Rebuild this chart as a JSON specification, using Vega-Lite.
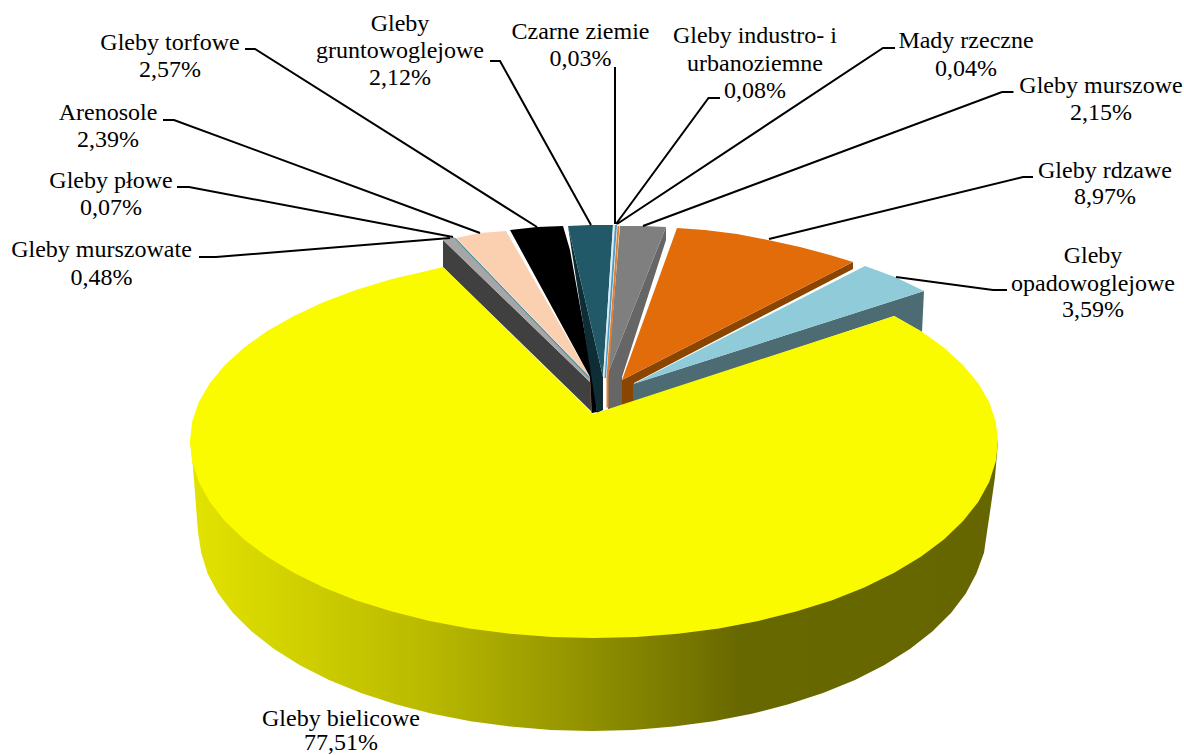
{
  "$schema": "https://vega.github.io/schema/vega-lite/v6.json",
  "autosize": {"type": "none"},
  "width": 1184,
  "height": 755,
  "padding": 0,
  "background": "white",
  "view": {"stroke": null},
  "datasets": {
    "rim": [
      {"x":998,"y":441},{"x":995,"y":477},{"x":991,"y":505},{"x":987,"y":532},{"x":984,"y":552.8},{"x":976.4,"y":573.4},{"x":965.8,"y":593.5},{"x":951,"y":612.9},{"x":932.3,"y":631.5},{"x":909.9,"y":649},{"x":884,"y":665.2},{"x":855,"y":679.9},{"x":823,"y":693},{"x":788.5,"y":704.3},{"x":751.8,"y":713.8},{"x":713.4,"y":721.3},{"x":673.7,"y":726.6},{"x":633.1,"y":729.9},{"x":592,"y":731},
      {"x":550.9,"y":729.9},{"x":510.3,"y":726.6},{"x":470.6,"y":721.3},{"x":432.2,"y":713.8},{"x":395.5,"y":704.3},{"x":361,"y":693},{"x":329,"y":679.9},{"x":300,"y":665.2},{"x":274.1,"y":649},{"x":251.7,"y":631.5},{"x":233,"y":612.9},{"x":218.2,"y":593.5},{"x":207.6,"y":573.4},{"x":201.2,"y":552.8},{"x":198,"y":532},{"x":193,"y":467},{"x":190,"y":441}
    ],
    "faces": [
      {"part":"murszowate bok","x":443,"y":240},{"part":"murszowate bok","x":443,"y":267},{"part":"murszowate bok","x":593,"y":413},{"part":"murszowate bok","x":590,"y":382},
      {"part":"murszowate","x":443,"y":240},{"part":"murszowate","x":453,"y":237},{"part":"murszowate","x":590,"y":377},{"part":"murszowate","x":590,"y":382},
      {"part":"płowe","x":453,"y":237},{"part":"płowe","x":456,"y":238.5},{"part":"płowe","x":590,"y":378},{"part":"płowe","x":589,"y":378},
      {"part":"arenosole bok","x":590,"y":377},{"part":"arenosole bok","x":591,"y":413},{"part":"arenosole bok","x":593,"y":413},{"part":"arenosole bok","x":592,"y":380},
      {"part":"arenosole","x":456,"y":238},{"part":"arenosole","x":480,"y":233},{"part":"arenosole","x":506,"y":231},{"part":"arenosole","x":590,"y":377},
      {"part":"torfowe","x":510,"y":230},{"part":"torfowe","x":537,"y":227},{"part":"torfowe","x":563,"y":226},{"part":"torfowe","x":570,"y":250},{"part":"torfowe","x":595,"y":390},{"part":"torfowe","x":597,"y":412},{"part":"torfowe","x":592,"y":413},{"part":"torfowe","x":590,"y":377},
      {"part":"gruntowoglejowe bok","x":568,"y":226},{"part":"gruntowoglejowe bok","x":572,"y":253},{"part":"gruntowoglejowe bok","x":597,"y":413},{"part":"gruntowoglejowe bok","x":603,"y":410},{"part":"gruntowoglejowe bok","x":603,"y":377},
      {"part":"gruntowoglejowe","x":568,"y":226},{"part":"gruntowoglejowe","x":590,"y":225},{"part":"gruntowoglejowe","x":613,"y":225},{"part":"gruntowoglejowe","x":603,"y":377},
      {"part":"czarne ziemie","x":613,"y":225},{"part":"czarne ziemie","x":615,"y":225},{"part":"czarne ziemie","x":604.5,"y":378},{"part":"czarne ziemie","x":603,"y":378},
      {"part":"industro","x":615,"y":225},{"part":"industro","x":617,"y":225},{"part":"industro","x":606,"y":378},{"part":"industro","x":604.5,"y":378},
      {"part":"murszowe bok","x":666,"y":227},{"part":"murszowe bok","x":666,"y":240},{"part":"murszowe bok","x":622,"y":377},{"part":"murszowe bok","x":622,"y":405},{"part":"murszowe bok","x":608,"y":410},{"part":"murszowe bok","x":608,"y":373},
      {"part":"murszowe","x":620,"y":226},{"part":"murszowe","x":643,"y":226},{"part":"murszowe","x":666,"y":227},{"part":"murszowe","x":608,"y":373},
      {"part":"mady","x":617.5,"y":226},{"part":"mady","x":619.5,"y":226},{"part":"mady","x":608.5,"y":378},{"part":"mady","x":608.5,"y":407},{"part":"mady","x":606.5,"y":408},{"part":"mady","x":606.5,"y":378},
      {"part":"rdzawe bok","x":853,"y":262},{"part":"rdzawe bok","x":853,"y":269},{"part":"rdzawe bok","x":634,"y":383},{"part":"rdzawe bok","x":634,"y":402},{"part":"rdzawe bok","x":622,"y":406},{"part":"rdzawe bok","x":622,"y":380},
      {"part":"rdzawe","x":677,"y":228},{"part":"rdzawe","x":705,"y":230},{"part":"rdzawe","x":737,"y":234},{"part":"rdzawe","x":768,"y":240},{"part":"rdzawe","x":800,"y":247},{"part":"rdzawe","x":830,"y":255},{"part":"rdzawe","x":853,"y":262},{"part":"rdzawe","x":622,"y":380},
      {"part":"opadowoglejowe bok","x":924,"y":291},{"part":"opadowoglejowe bok","x":922,"y":332},{"part":"opadowoglejowe bok","x":894.2,"y":315.9},{"part":"opadowoglejowe bok","x":633,"y":402},{"part":"opadowoglejowe bok","x":633,"y":384},
      {"part":"opadowoglejowe","x":865,"y":266},{"part":"opadowoglejowe","x":895,"y":277},{"part":"opadowoglejowe","x":924,"y":291},{"part":"opadowoglejowe","x":633,"y":384},
      {"part":"bielicowe","x":593,"y":414},{"part":"bielicowe","x":894.2,"y":315.9},{"part":"bielicowe","x":920.8,"y":331.1},{"part":"bielicowe","x":943.9,"y":347.5},{"part":"bielicowe","x":963.1,"y":364.9},{"part":"bielicowe","x":978.2,"y":383.2},{"part":"bielicowe","x":989.2,"y":402.1},{"part":"bielicowe","x":995.8,"y":421.5},{"part":"bielicowe","x":998,"y":441},
      {"part":"bielicowe","x":995.8,"y":461.6},{"part":"bielicowe","x":989.2,"y":482},{"part":"bielicowe","x":978.2,"y":501.9},{"part":"bielicowe","x":963.1,"y":521.1},{"part":"bielicowe","x":943.9,"y":539.5},{"part":"bielicowe","x":920.8,"y":556.8},{"part":"bielicowe","x":894.2,"y":572.8},{"part":"bielicowe","x":864.3,"y":587.4},{"part":"bielicowe","x":831.5,"y":600.4},{"part":"bielicowe","x":796,"y":611.6},{"part":"bielicowe","x":758.3,"y":621},{"part":"bielicowe","x":718.8,"y":628.4},{"part":"bielicowe","x":678,"y":633.7},{"part":"bielicowe","x":636.2,"y":636.9},{"part":"bielicowe","x":594,"y":638},
      {"part":"bielicowe","x":551.8,"y":636.9},{"part":"bielicowe","x":510,"y":633.7},{"part":"bielicowe","x":469.2,"y":628.4},{"part":"bielicowe","x":429.7,"y":621},{"part":"bielicowe","x":392,"y":611.6},{"part":"bielicowe","x":356.5,"y":600.4},{"part":"bielicowe","x":323.7,"y":587.4},{"part":"bielicowe","x":293.8,"y":572.8},{"part":"bielicowe","x":267.2,"y":556.8},{"part":"bielicowe","x":244.1,"y":539.5},{"part":"bielicowe","x":224.9,"y":521.1},{"part":"bielicowe","x":209.8,"y":501.9},{"part":"bielicowe","x":198.8,"y":482},{"part":"bielicowe","x":192.2,"y":461.6},{"part":"bielicowe","x":190,"y":441},
      {"part":"bielicowe","x":192.2,"y":421.5},{"part":"bielicowe","x":198.8,"y":402.1},{"part":"bielicowe","x":209.8,"y":383.2},{"part":"bielicowe","x":224.9,"y":364.9},{"part":"bielicowe","x":244.1,"y":347.5},{"part":"bielicowe","x":267.2,"y":331.1},{"part":"bielicowe","x":293.8,"y":315.9},{"part":"bielicowe","x":323.7,"y":302},{"part":"bielicowe","x":356.5,"y":289.7},{"part":"bielicowe","x":392,"y":279.1},{"part":"bielicowe","x":429.7,"y":270.2},{"part":"bielicowe","x":443,"y":267}
    ],
    "leaders": [
      {"soil":"Gleby torfowe","x":245,"y":49},{"soil":"Gleby torfowe","x":255,"y":49},{"soil":"Gleby torfowe","x":537,"y":227},
      {"soil":"Gleby gruntowoglejowe","x":490,"y":61},{"soil":"Gleby gruntowoglejowe","x":500,"y":61},{"soil":"Gleby gruntowoglejowe","x":591,"y":225},
      {"soil":"Arenosole","x":163,"y":120},{"soil":"Arenosole","x":174,"y":120},{"soil":"Arenosole","x":480,"y":233},
      {"soil":"Gleby płowe","x":177,"y":187},{"soil":"Gleby płowe","x":189,"y":187},{"soil":"Gleby płowe","x":453,"y":237},
      {"soil":"Gleby murszowate","x":199,"y":257},{"soil":"Gleby murszowate","x":216,"y":257},{"soil":"Gleby murszowate","x":450,"y":238},
      {"soil":"Czarne ziemie","x":615,"y":67},{"soil":"Czarne ziemie","x":615,"y":224},
      {"soil":"Gleby industro- i urbanoziemne","x":720,"y":98},{"soil":"Gleby industro- i urbanoziemne","x":708.5,"y":98},{"soil":"Gleby industro- i urbanoziemne","x":616,"y":224},
      {"soil":"Mady rzeczne","x":895,"y":48},{"soil":"Mady rzeczne","x":883,"y":48},{"soil":"Mady rzeczne","x":617,"y":224},
      {"soil":"Gleby murszowe","x":1013.5,"y":92},{"soil":"Gleby murszowe","x":1002,"y":92},{"soil":"Gleby murszowe","x":643,"y":226},
      {"soil":"Gleby rdzawe","x":1033,"y":177},{"soil":"Gleby rdzawe","x":1023,"y":177},{"soil":"Gleby rdzawe","x":769,"y":239},
      {"soil":"Gleby opadowoglejowe","x":1007,"y":290},{"soil":"Gleby opadowoglejowe","x":993,"y":290},{"soil":"Gleby opadowoglejowe","x":896,"y":277}
    ],
    "labels": [
      {"text":"Gleby torfowe","x":170,"y":50},{"text":"2,57%","x":170,"y":77},
      {"text":"Gleby","x":400,"y":31},{"text":"gruntowoglejowe","x":400,"y":58},{"text":"2,12%","x":400,"y":85},
      {"text":"Arenosole","x":108,"y":120},{"text":"2,39%","x":108,"y":147},
      {"text":"Gleby płowe","x":111,"y":188},{"text":"0,07%","x":111,"y":215},
      {"text":"Gleby murszowate","x":101.5,"y":257},{"text":"0,48%","x":101.5,"y":285},
      {"text":"Czarne ziemie","x":580.5,"y":39},{"text":"0,03%","x":580.5,"y":66},
      {"text":"Gleby industro- i","x":755,"y":43},{"text":"urbanoziemne","x":755,"y":71},{"text":"0,08%","x":755,"y":98},
      {"text":"Mady rzeczne","x":966,"y":48},{"text":"0,04%","x":966,"y":76},
      {"text":"Gleby murszowe","x":1101,"y":93},{"text":"2,15%","x":1101,"y":120},
      {"text":"Gleby rdzawe","x":1105,"y":178},{"text":"8,97%","x":1105,"y":204},
      {"text":"Gleby","x":1093,"y":263},{"text":"opadowoglejowe","x":1093,"y":291},{"text":"3,59%","x":1093,"y":317},
      {"text":"Gleby bielicowe","x":341,"y":726},{"text":"77,51%","x":341,"y":750}
    ]
  },
  "encoding": {
    "x": {"field": "x", "type": "quantitative", "axis": null, "scale": {"domain": [0, 1184], "nice": false, "zero": false}},
    "y": {"field": "y", "type": "quantitative", "axis": null, "scale": {"domain": [755, 0], "nice": false, "zero": false}}
  },
  "layer": [
    {
      "data": {"name": "rim"},
      "mark": {
        "type": "line",
        "stroke": null,
        "fill": {
          "gradient": "linear", "x1": 0, "y1": 0, "x2": 1, "y2": 0,
          "stops": [
            {"offset": 0, "color": "#e3e300"},
            {"offset": 0.3, "color": "#b8b800"},
            {"offset": 0.5, "color": "#8f8f00"},
            {"offset": 0.68, "color": "#686800"},
            {"offset": 1, "color": "#666600"}
          ]
        }
      },
      "encoding": {"order": {"value": null}}
    },
    {
      "data": {"name": "faces"},
      "mark": {"type": "line", "stroke": null},
      "encoding": {
        "order": {"value": null},
        "detail": {"field": "part"},
        "fill": {
          "field": "part",
          "type": "nominal",
          "legend": null,
          "scale": {
            "domain": ["murszowate bok","murszowate","płowe","arenosole bok","arenosole","torfowe","gruntowoglejowe bok","gruntowoglejowe","czarne ziemie","industro","murszowe bok","murszowe","mady","rdzawe bok","rdzawe","opadowoglejowe bok","opadowoglejowe","bielicowe"],
            "range": ["#404040","#a6a6a6","#31859c","#7f5f50","#fad0b0","#000000","#0f2d34","#215968","#dbeef3","#4f9bc8","#666666","#7f7f7f","#e08030","#8a4500","#e26b0a","#4d6b73","#8fcbd9","#fbfb00"]
          }
        }
      }
    },
    {
      "data": {"name": "leaders"},
      "mark": {"type": "line", "color": "black", "strokeWidth": 2},
      "encoding": {"order": {"value": null}, "detail": {"field": "soil"}}
    },
    {
      "data": {"name": "labels"},
      "mark": {"type": "text", "font": "Liberation Serif", "fontSize": 24, "color": "black", "align": "center", "baseline": "alphabetic"},
      "encoding": {"text": {"field": "text", "type": "nominal"}}
    }
  ]
}
